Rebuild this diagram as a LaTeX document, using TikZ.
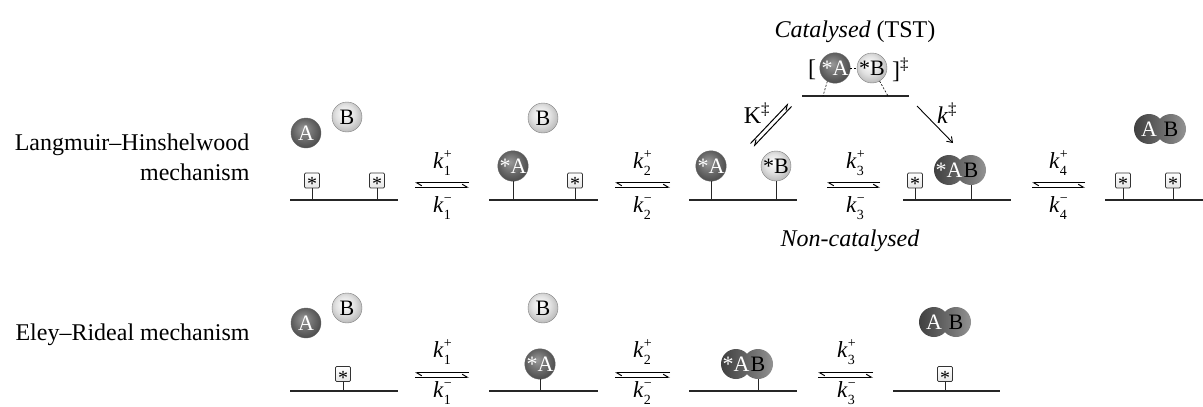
\documentclass[tikz,border=0pt]{standalone}
\usepackage{fontspec}
\setmainfont{Liberation Serif}
\usetikzlibrary{arrows.meta,calc}

% shadings for the spheres
\pgfdeclareradialshading{darkball}{\pgfpoint{-5bp}{7bp}}{color(0bp)=(black!40);color(18bp)=(black!60);color(42bp)=(black!84);color(50bp)=(black!70)}
\pgfdeclareradialshading{lightball}{\pgfpoint{-5bp}{7bp}}{color(0bp)=(white);color(16bp)=(black!12);color(40bp)=(black!42);color(50bp)=(black!58)}
\pgfdeclarehorizontalshading{dimershade}{100bp}{color(0bp)=(black!88);color(30bp)=(black!72);color(58bp)=(black!55);color(85bp)=(black!35);color(100bp)=(black!45)}

% rate constant k with sub- and superscript
\newcommand\rk[2]{\textit{k}\/\rlap{\raisebox{0.42em}{\fontsize{14}{14}\selectfont #2}}\raisebox{-0.32em}{\fontsize{14}{14}\selectfont #1}}

% two fused spheres "AB": #1 name, #2 x, #3 y, #4 left text
\newcommand\dimer[4]{%
  \shade[shading=dimershade, shift={(#2,#3)}] (-11,0) circle[radius=15pt] (11,0) circle[radius=15pt];
  \node[dtxt, text=white] (#1a) at (#2-11,#3) {#4};
  \node[dtxt, text=black] (#1b) at (#2+11,#3) {B};
}

\begin{document}
\begin{tikzpicture}[x=1pt,y=-1pt,
  font=\fontsize{24}{30}\selectfont,
  surf/.style={line width=1.2pt, draw=black!85},
  stem/.style={line width=0.9pt, draw=black!85},
  site/.style={draw=black!80, line width=0.7pt, rounded corners=1.2pt, top color=white, bottom color=black!10,
               minimum size=15pt, inner sep=0pt, text height=0pt, text depth=0pt, font=\fontsize{20}{20}\selectfont},
  balla/.style={circle, inner sep=0pt, minimum size=30pt, shade, shading=darkball, draw=black!60, line width=0.4pt,
               text=white, font=\fontsize{22}{22}\selectfont},
  ballb/.style={circle, inner sep=0pt, minimum size=30pt, shade, shading=lightball, draw=black!50, line width=0.4pt,
               text=black, font=\fontsize{22}{22}\selectfont},
  dtxt/.style={circle, inner sep=0pt, minimum size=30pt, font=\fontsize{22}{22}\selectfont},
  harpl/.style={line width=1pt, -{Straight Barb[left, length=5pt, width=6pt]}},
  harpr/.style={line width=1pt, -{Straight Barb[right, length=5pt, width=6pt]}},
  ratelab/.style={anchor=base, font=\fontsize{23}{23}\selectfont},
  mech/.style={anchor=base east}
]
\useasboundingbox (0,0) rectangle (1203,407);

% ---------- mechanism names ----------
\node[mech] (lh1) at (253,150) {Langmuir–Hinshelwood};
\node[mech] (lh2) at (253,180) {mechanism};
\node[mech] (er)  at (253,340) {Eley–Rideal mechanism};

% ================= Langmuir–Hinshelwood =================
% state 1: free A and B, two empty sites
\coordinate (s1l) at (290,200); \coordinate (s1r) at (398,200);
\draw[surf] (s1l) -- (s1r);
\node[site] (h1a) at (312,180.5) {\raisebox{-10pt}{*}};
\node[site] (h1b) at (377,180.5) {\raisebox{-10pt}{*}};
\draw[stem] (h1a.south) -- (h1a.south |- s1l);
\draw[stem] (h1b.south) -- (h1b.south |- s1l);
\node[balla] (fa1) at (306,133) {A};
\node[ballb] (fb1) at (347,117) {B};

% state 2: A adsorbed
\coordinate (s2l) at (489,200); \coordinate (s2r) at (598,200);
\draw[surf] (s2l) -- (s2r);
\node[balla] (aa2) at (513,166) {*A};
\node[site] (h2b) at (575,180.5) {\raisebox{-10pt}{*}};
\draw[stem] (aa2.south) -- (aa2.south |- s2l);
\draw[stem] (h2b.south) -- (h2b.south |- s2l);
\node[ballb] (fb2) at (543,118) {B};

% state 3: A and B adsorbed
\coordinate (s3l) at (689,200); \coordinate (s3r) at (797,200);
\draw[surf] (s3l) -- (s3r);
\node[balla] (aa3) at (711,166) {*A};
\node[ballb] (ab3) at (776,166) {*B};
\draw[stem] (aa3.south) -- (aa3.south |- s3l);
\draw[stem] (ab3.south) -- (ab3.south |- s3l);

% state 4: adsorbed AB
\coordinate (s4l) at (903,200); \coordinate (s4r) at (1011,200);
\draw[surf] (s4l) -- (s4r);
\node[site] (h4a) at (915,180.5) {\raisebox{-10pt}{*}};
\draw[stem] (h4a.south) -- (h4a.south |- s4l);
\dimer{d4}{960}{170}{*A}
\draw[stem] (d4b.south) -- (d4b.south |- s4l);

% state 5: AB desorbed
\coordinate (s5l) at (1105,200); \coordinate (s5r) at (1203,200);
\draw[surf] (s5l) -- (s5r);
\node[site] (h5a) at (1123,180.5) {\raisebox{-10pt}{*}};
\node[site] (h5b) at (1173,180.5) {\raisebox{-10pt}{*}};
\draw[stem] (h5a.south) -- (h5a.south |- s5l);
\draw[stem] (h5b.south) -- (h5b.south |- s5l);
\dimer{d5}{1160}{129}{A}

% equilibrium arrows
\foreach \n/\xa/\xb in {1/415/469, 2/615/670, 3/827/880, 4/1032/1085}{
  \coordinate (e\n l) at (\xa,185); \coordinate (e\n r) at (\xb,185);
  \draw[harpl] ([yshift=2.2pt]e\n r) -- ([yshift=2.2pt]e\n l);
  \draw[harpl] ([yshift=-2.2pt]e\n l) -- ([yshift=-2.2pt]e\n r);
}
\node[ratelab] (k1p) at (442,168) {\rk{1}{+}};
\node[ratelab] (k1m) at (442,212) {\rk{1}{−}};
\node[ratelab] (k2p) at (642,168) {\rk{2}{+}};
\node[ratelab] (k2m) at (642,212) {\rk{2}{−}};
\node[ratelab] (k3p) at (855,168) {\rk{3}{+}};
\node[ratelab] (k3m) at (855,212) {\rk{3}{−}};
\node[ratelab] (k4p) at (1058,168) {\rk{4}{+}};
\node[ratelab] (k4m) at (1058,212) {\rk{4}{−}};

\node (noncat) at (850,241) {\textit{Non-catalysed}};

% transition state
\node (cat) at (855,32) {\textit{Catalysed} (TST)};
\coordinate (tsl) at (802,96); \coordinate (tsr) at (909,96);
\draw[surf] (tsl) -- (tsr);
\node[balla] (ta) at (835,68) {*A};
\node[ballb] (tb) at (872,68) {*B};
\node (brl) at (812,70) {[};
\node[anchor=west, inner sep=0pt] (brr) at (892,70) {]\textsuperscript{‡}};
\coordinate (tfa) at (823,96); \coordinate (tfb) at (888,96);
\draw[line width=0.6pt, dash pattern=on 2pt off 1.6pt] (ta.east) -- (tb.west);
\draw[line width=0.6pt, dash pattern=on 2pt off 1.6pt] (ta.240) -- (tfa);
\draw[line width=0.6pt, dash pattern=on 2pt off 1.6pt] (tb.300) -- (tfb);

% K double-dagger equilibrium (state 3 <-> TS)
\coordinate (kd) at (752,145); \coordinate (ku) at (790,105);
\draw[harpr] ($(kd)+(-1.5,-1.5)$) -- ($(ku)+(-1.5,-1.5)$);
\draw[harpr] ($(ku)+(1.5,1.5)$) -- ($(kd)+(1.5,1.5)$);
\node (Kdd) at (757,113) {K\textsuperscript{‡}};

% k double-dagger (TS -> state 4)
\coordinate (qa) at (917,106); \coordinate (qb) at (953,143);
\draw[line width=0.9pt, -{Straight Barb[length=5pt, width=7pt]}] (qa) -- (qb);
\node (kdd) at (947,113) {\textit{k}\textsuperscript{‡}};

% ================= Eley–Rideal =================
\coordinate (r1l) at (290,391); \coordinate (r1r) at (398,391);
\draw[surf] (r1l) -- (r1r);
\node[site] (g1) at (343,374) {\raisebox{-10pt}{*}};
\draw[stem] (g1.south) -- (g1.south |- r1l);
\node[balla] (ga1) at (306,323) {A};
\node[ballb] (gb1) at (347,308) {B};

\coordinate (r2l) at (489,391); \coordinate (r2r) at (598,391);
\draw[surf] (r2l) -- (r2r);
\node[balla] (ga2) at (540,364) {*A};
\draw[stem] (ga2.south) -- (ga2.south |- r2l);
\node[ballb] (gb2) at (543,308) {B};

\coordinate (r3l) at (689,391); \coordinate (r3r) at (797,391);
\draw[surf] (r3l) -- (r3r);
\dimer{g3}{747}{364}{*A}
\draw[stem] (g3b.south) -- (g3b.south |- r3l);

\coordinate (r4l) at (893,391); \coordinate (r4r) at (1000,391);
\draw[surf] (r4l) -- (r4r);
\node[site] (g4) at (945,374) {\raisebox{-10pt}{*}};
\draw[stem] (g4.south) -- (g4.south |- r4l);
\dimer{g4d}{945}{322}{A}

\foreach \n/\xa/\xb in {1/415/469, 2/615/670, 3/818/873}{
  \coordinate (f\n l) at (\xa,375); \coordinate (f\n r) at (\xb,375);
  \draw[harpl] ([yshift=2.2pt]f\n r) -- ([yshift=2.2pt]f\n l);
  \draw[harpl] ([yshift=-2.2pt]f\n l) -- ([yshift=-2.2pt]f\n r);
}
\node[ratelab] (j1p) at (442,357) {\rk{1}{+}};
\node[ratelab] (j1m) at (442,397) {\rk{1}{−}};
\node[ratelab] (j2p) at (642,357) {\rk{2}{+}};
\node[ratelab] (j2m) at (642,397) {\rk{2}{−}};
\node[ratelab] (j3p) at (846,357) {\rk{3}{+}};
\node[ratelab] (j3m) at (846,397) {\rk{3}{−}};
\end{tikzpicture}
\end{document}
